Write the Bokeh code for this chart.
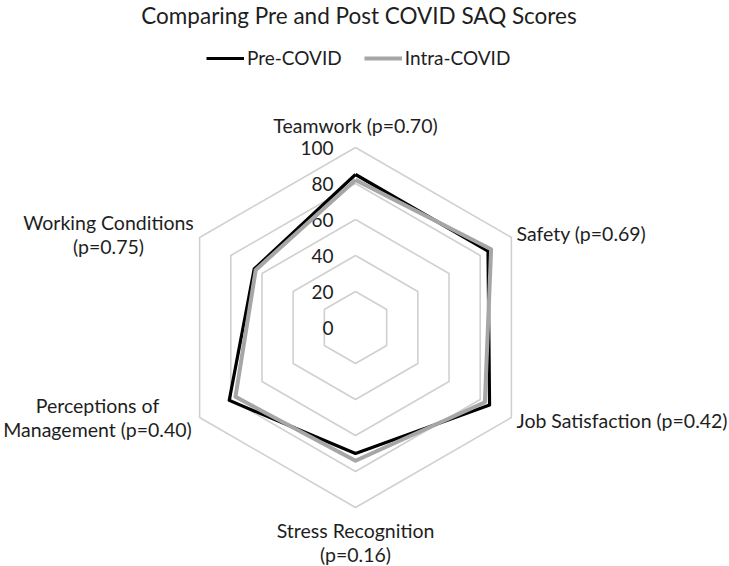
import numpy as np
from bokeh.plotting import figure
from bokeh.models import Range1d, Legend, LegendItem, Label
from bokeh.core.properties import value
from bokeh.embed import file_html
from bokeh.resources import INLINE

# ---------------- data ----------------
categories = ["Teamwork (p=0.70)", "Safety (p=0.69)", "Job Satisfaction (p=0.42)",
              "Stress Recognition\n(p=0.16)", "Perceptions of\nManagement (p=0.40)",
              "Working Conditions\n(p=0.75)"]
pre_covid = [85, 85, 86, 70, 81, 65]
intra_covid = [82, 87, 83, 74, 77, 64]
tick_values = [0, 20, 40, 60, 80, 100]
tick_labels = ["0", "20", "40", "60", "80", "100"]
series_names = ["Pre-COVID", "Intra-COVID"]
title_text = "Comparing Pre and Post COVID SAQ Scores"

# ---------------- layout ----------------
W, H = 729, 566
PX = 1.8                 # pixels per value unit
CX, CY = 355, 327        # centre of the radar, px from the top-left of the figure
FONT = "Lato"
TXT = "#1e1e1e"

n = len(categories)
angles = np.pi / 2 - np.arange(n) * 2 * np.pi / n

p = figure(width=W, height=H, output_backend="svg", toolbar_location=None,
           x_range=Range1d(-CX / PX, (W - CX) / PX),
           y_range=Range1d(-(H - CY) / PX, CY / PX),
           min_border=0, outline_line_color=None)
p.axis.visible = False
p.grid.visible = False
p.background_fill_color = "white"
p.border_fill_color = "white"

# grid hexagons
for t in tick_values[1:]:
    xs = list(t * np.cos(angles)) + [t * np.cos(angles[0])]
    ys = list(t * np.sin(angles)) + [t * np.sin(angles[0])]
    p.line(xs, ys, line_color="#D0D0D0", line_width=1.6)

# tick labels along the vertical axis
p.text(x=[-22 / PX] * len(tick_values), y=tick_values, text=tick_labels,
       text_align="right", text_baseline="middle", text_font=value(FONT),
       text_font_size="19px", text_color=TXT)

# series
def closed(vals):
    v = np.array(vals, dtype=float)
    xs = v * np.cos(angles)
    ys = v * np.sin(angles)
    return list(xs) + [xs[0]], list(ys) + [ys[0]]

x1, y1 = closed(pre_covid)
x2, y2 = closed(intra_covid)
r1 = p.line(x1, y1, line_color="#000000", line_width=3.2, line_join="round")
r2 = p.line(x2, y2, line_color="#A6A6A6", line_width=4, line_join="round")

# category labels (pixel offsets from the centre)
offs = [(0, 202, "center"), (161, 94, "left"), (161, -93, "left"),
        (0, -215, "center"), (-258, -90, "center"), (-247, 93, "center")]
for lab, (dx, dy, al) in zip(categories, offs):
    p.text(x=[dx / PX], y=[dy / PX], text=[lab], text_align=al,
           text_baseline="middle", text_font=value(FONT), text_font_size="19.5px",
           text_color=TXT, text_line_height=1.07)

# title
p.add_layout(Label(x=W / 2 - 6, y=H - 15, x_units="screen", y_units="screen",
                   text=title_text, text_align="center", text_baseline="middle",
                   text_font=FONT, text_font_size="22.5px", text_color=TXT))

# legend
legend = Legend(items=[LegendItem(label=series_names[0], renderers=[r1]),
                       LegendItem(label=series_names[1], renderers=[r2])],
                orientation="horizontal", location=(206, H - 58 - 11),
                border_line_color=None, background_fill_alpha=0,
                label_text_font=FONT, label_text_font_size="19px",
                label_text_color=TXT, glyph_width=38, glyph_height=22,
                label_height=22, label_standoff=3, spacing=22, padding=0,
                margin=0)
p.add_layout(legend, "center")

open("out.html", "w").write(file_html(p, INLINE))
